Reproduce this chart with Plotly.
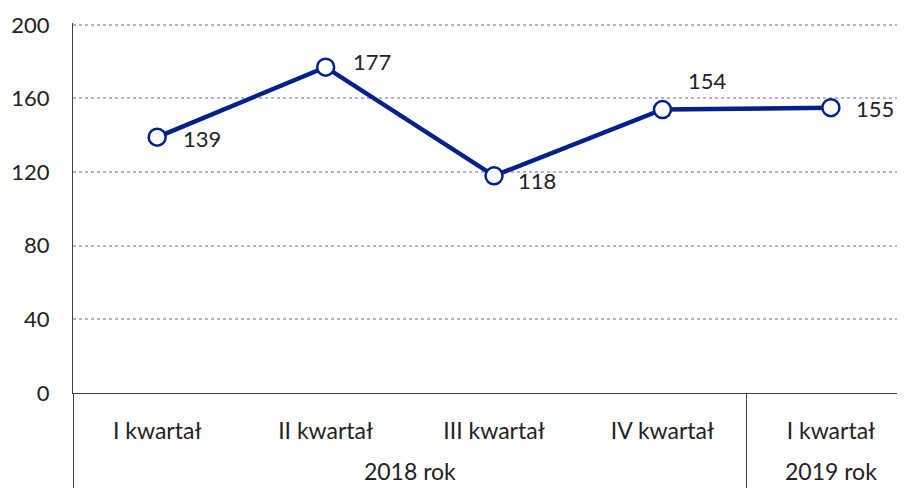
import plotly.graph_objects as go

years = ["2018 rok", "2018 rok", "2018 rok", "2018 rok", "2019 rok"]
quarters = ["I kwartał", "II kwartał", "III kwartał", "IV kwartał", "I kwartał"]
values = [139, 177, 118, 154, 155]
y_ticks = [0, 40, 80, 120, 160, 200]

# label offsets (pixels) relative to each point
label_dx = [45, 46, 43, 45, 44]
label_dy = [-1, 6, -5, 29, -1]

navy = "#00208a"
txt = "#222222"
axc = "#404040"
font = "Lato, 'Open Sans', sans-serif"

xs = list(range(len(values)))

# group (year) centres and boundaries derived from the category lists
groups = []
for i, yv in enumerate(years):
    if not groups or groups[-1][0] != yv:
        groups.append([yv, i, i])
    else:
        groups[-1][2] = i
group_centres = [(g[1] + g[2]) / 2 for g in groups]
group_names = [g[0] for g in groups]
group_bounds = [g[1] - 0.5 for g in groups]

fig = go.Figure()
fig.add_trace(go.Scatter(
    x=xs, y=values,
    mode="lines+markers",
    line=dict(color=navy, width=4.5),
    marker=dict(size=17, color="white", line=dict(color=navy, width=2.5)),
    hoverinfo="skip",
    cliponaxis=False,
))
# invisible traces so the helper axes are drawn
fig.add_trace(go.Scatter(x=xs, y=values, xaxis="x2", mode="markers",
                         marker=dict(opacity=0), hoverinfo="skip"))
fig.add_trace(go.Scatter(x=xs, y=values, xaxis="x3", mode="markers",
                         marker=dict(opacity=0), hoverinfo="skip"))

for i, v in enumerate(values):
    fig.add_annotation(
        x=xs[i], y=v, xref="x", yref="y", text=str(v), showarrow=False,
        xshift=label_dx[i], yshift=label_dy[i],
        font=dict(family=font, size=22, color=txt),
    )

xr = [-0.5, 4.44]
fig.update_layout(
    width=897, height=480,
    margin=dict(l=65, r=0, t=15, b=95),
    paper_bgcolor="white", plot_bgcolor="white",
    showlegend=False,
    font=dict(family=font, size=22, color=txt),
    xaxis=dict(
        range=xr, tickvals=xs, ticktext=quarters,
        showline=True, linecolor=axc, linewidth=1,
        showgrid=False, zeroline=False, ticks="",
        ticklabelstandoff=17, automargin=False,
        tickfont=dict(family=font, size=23, color=txt),
    ),
    xaxis2=dict(
        overlaying="x", anchor="y", side="bottom",
        range=xr, tickvals=group_centres, ticktext=group_names,
        showline=False, showgrid=False, zeroline=False, ticks="",
        ticklabelstandoff=63, automargin=False,
        tickfont=dict(family=font, size=23, color=txt),
    ),
    xaxis3=dict(
        overlaying="x", anchor="y", side="bottom",
        range=xr, tickvals=group_bounds, showticklabels=False,
        showline=False, showgrid=False, zeroline=False,
        ticks="outside", ticklen=95, tickwidth=1, tickcolor=axc,
        automargin=False,
    ),
    yaxis=dict(
        range=[0, 201], tickvals=y_ticks,
        showline=True, linecolor=axc, linewidth=1,
        showgrid=True, gridcolor="#b0b0d8", griddash="dot", gridwidth=1.5,
        zeroline=False, ticks="",
        ticklabelstandoff=18, automargin=False,
        tickfont=dict(family=font, size=22, color=txt),
    ),
)

fig.write_html("out.html")
